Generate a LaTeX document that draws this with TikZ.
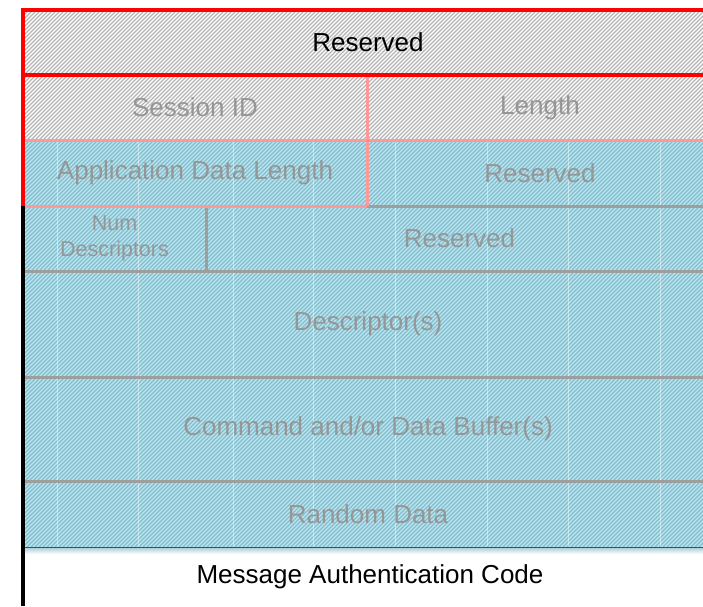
\documentclass[tikz,border=0pt]{standalone}
\usepackage{fontspec}
\setmainfont{Liberation Sans}
\definecolor{cellblue}{RGB}{180,234,248}
\definecolor{bluestripe}{RGB}{140,184,197}
\definecolor{graystripe}{RGB}{180,180,180}
\definecolor{fadetext}{RGB}{150,150,150}
\tikzset{
	cell/.style={rectangle, inner sep=0pt, outer sep=0pt, text=fadetext, font=\fontsize{26}{30}\selectfont},
	sepline/.style={draw=black!38, line width=3pt},
	redline/.style={draw=red!40, line width=3pt},
	stripe/.style={line width=1.1pt}
}
\begin{document}
\begin{tikzpicture}[x=1pt, y=-1pt]
				\useasboundingbox[fill=white] (0,0) rectangle (703,606);
				\fill[cellblue] (23,140) rectangle (713,547);
				\begin{scope}
					\clip (23,10) rectangle (713,140);
					\foreach \i in {-40,...,175}
						\draw[stripe, graystripe] (23+4*\i,140) -- ++(140,-140);
				\end{scope}
				\begin{scope}
					\clip (23,140) rectangle (713,547);
					\foreach \i in {-105,...,175}
						\draw[stripe, bluestripe] (23+4*\i,547) -- ++(420,-420);
				\end{scope}
				\foreach \gx in {57,138,233,313,395,487,568,660}
					\draw[white, opacity=.45, line width=.7pt] (\gx,141) -- (\gx,546);
				\node[cell, minimum width=690pt, minimum height=65pt, text=black] (res1) at (368, 42.5) {Reserved};
				\node[cell, minimum width=344pt, minimum height=65pt] (sid) at (195, 107.5) {Session ID};
				\node[cell, minimum width=346pt, minimum height=65pt] (len) at (540, 107.5) {Length};
				\node[cell, minimum width=344pt, minimum height=66pt] (adl) at (195, 173) {Application Data Length};
				\node[cell, minimum width=346pt, minimum height=66pt] (res2) at (540, 173) {Reserved};
				\node[cell, minimum width=183pt, minimum height=65pt, align=center, font=\fontsize{21.5}{26}\selectfont] (num) at (114.5, 238.5) {Num\\Descriptors};
				\node[cell, minimum width=507pt, minimum height=65pt] (res3) at (459.5, 238.5) {Reserved};
				\node[cell, minimum width=690pt, minimum height=106pt] (desc) at (368, 324) {Descriptor(s)};
				\node[cell, minimum width=690pt, minimum height=104pt] (cmd) at (368, 429) {Command and/or Data Buffer(s)};
				\node[cell, minimum width=690pt, minimum height=66pt] (rnd) at (368, 514) {Random Data};
				\draw[sepline] (res2.south west) -- (res2.south east);
				\draw[sepline] (num.north east) -- (num.south east);
				\draw[sepline] (desc.north west) -- (desc.north east);
				\draw[sepline] (cmd.north west) -- (cmd.north east);
				\draw[sepline] (rnd.north west) -- (rnd.north east);
				\fill[top color=cellblue!70!gray, bottom color=white] (rnd.south west) rectangle ++(690,7);
				\draw[black!70, line width=1pt] (rnd.south west) -- (rnd.south east);
				\node[font=\fontsize{26}{30}\selectfont, inner sep=0pt] (mac) at (370, 577) {Message Authentication Code};
				\coordinate (bottomleft) at (23, 606);
				\draw[redline] (sid.south west) -- (len.south east);
				\draw[redline] (sid.north east) -- (adl.south east);
				\draw[redline] (adl.south west) -- (adl.south east);
				\draw[red, line width=3.5pt] (res1.south west) rectangle (res1.north east);
				\draw[red, line width=3.5pt] (res1.north west) -- (adl.south west);
				\draw[black, line width=3.5pt] (num.north west) -- (bottomleft);
			\end{tikzpicture}
\end{document}
